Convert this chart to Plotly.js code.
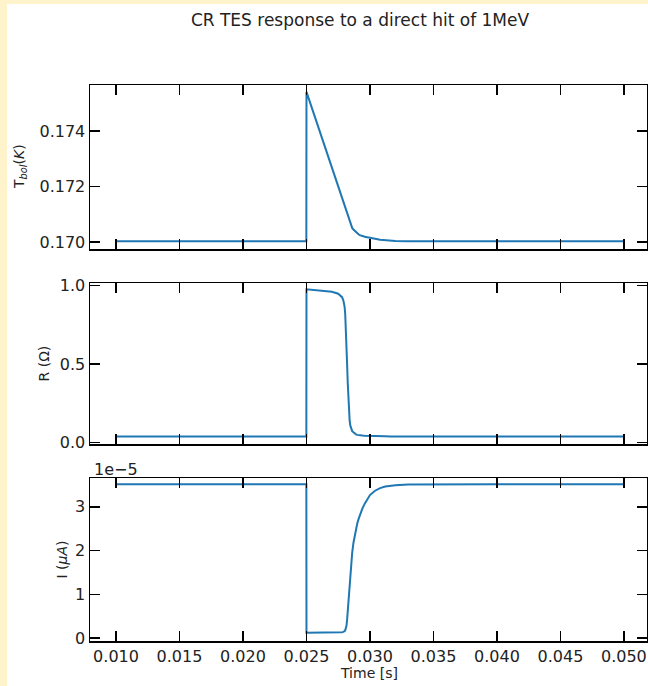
<!DOCTYPE html>
<html><head><meta charset="utf-8">
<script src="https://cdn.plot.ly/plotly-3.0.1.min.js"></script>
<style>
html,body{margin:0;padding:0;background:#fff3cc;width:648px;height:686px;overflow:hidden;}
#chart{position:absolute;left:7px;top:4px;width:641px;height:682px;background:#fff;}
</style></head><body><div id="chart"></div>
<script>
// ---- data ----
const timeS = [0.010, 0.02499, 0.025, 0.0255, 0.026, 0.0265, 0.027, 0.0275,
  0.0278, 0.0279, 0.02795, 0.0280, 0.02805, 0.0281, 0.02815, 0.0282, 0.02825, 0.0283, 0.02835, 0.0284, 0.02845, 0.0285,
  0.0286, 0.0287, 0.0288, 0.0289, 0.0290, 0.0291, 0.0292, 0.0294, 0.0296, 0.0298, 0.0300,
  0.0304, 0.0308, 0.0312, 0.0316, 0.0320, 0.0330, 0.0350, 0.0400, 0.0500];
const tempK = [0.17003, 0.17003, 0.17541, 0.17472, 0.17403, 0.17334, 0.17265, 0.17196,
  0.17154, 0.17141, 0.17134, 0.17127, 0.17120, 0.17113, 0.17106, 0.17099, 0.17092, 0.17085, 0.17078, 0.17071, 0.17065, 0.17059,
  0.17051, 0.17045, 0.17040, 0.17035, 0.17031, 0.17028, 0.17025, 0.17021, 0.17019, 0.17017, 0.17016,
  0.17012, 0.17008, 0.17006, 0.17005, 0.17004, 0.17003, 0.17003, 0.17003, 0.17003];
const resOhm = [0.04, 0.04, 0.975, 0.972, 0.969, 0.965, 0.959, 0.947,
  0.925, 0.905, 0.89, 0.865, 0.82, 0.74, 0.63, 0.50, 0.38, 0.27, 0.19, 0.14, 0.11, 0.09,
  0.074, 0.066, 0.058, 0.053, 0.05, 0.048, 0.047, 0.046, 0.045, 0.044, 0.043,
  0.042, 0.041, 0.0405, 0.04, 0.04, 0.04, 0.04, 0.04, 0.04];
const currentA = [3.52e-5, 3.52e-5, 0.12e-5, 0.12e-5, 0.121e-5, 0.122e-5, 0.124e-5, 0.127e-5,
  0.134e-5, 0.14e-5, 0.145e-5, 0.155e-5, 0.175e-5, 0.21e-5, 0.28e-5, 0.42e-5, 0.62e-5, 0.86e-5, 1.1e-5, 1.33e-5, 1.52e-5, 1.68e-5,
  1.95e-5, 2.18e-5, 2.36e-5, 2.50e-5, 2.62e-5, 2.72e-5, 2.81e-5, 2.96e-5, 3.08e-5, 3.19e-5, 3.27e-5,
  3.37e-5, 3.43e-5, 3.465e-5, 3.485e-5, 3.497e-5, 3.51e-5, 3.517e-5, 3.52e-5, 3.52e-5];
const xTickVals = [0.010, 0.015, 0.020, 0.025, 0.030, 0.035, 0.040, 0.045, 0.050];
const xTickText = ['0.010', '0.015', '0.020', '0.025', '0.030', '0.035', '0.040', '0.045', '0.050'];
const tTickVals = [0.170, 0.172, 0.174];
const tTickText = ['0.170', '0.172', '0.174'];
const rTickVals = [0, 0.5, 1.0];
const rTickText = ['0.0', '0.5', '1.0'];
const iTickVals = [0, 1e-5, 2e-5, 3e-5];
const iTickText = ['0', '1', '2', '3'];
const titleText = 'CR TES response to a direct hit of 1MeV';

// ---- layout geometry (page pixels) ----
const OX = 7, OY = 4, W = 641, H = 682;
const pL = 90, pR = 647, pT = 85, pB = 641;
const mL = pL - OX, mR = (OX + W) - pR, mT = pT - OY, mB = (OY + H) - pB;
const ph = pB - pT, pw = pR - pL;
function dom(top, bot) { return [(pB - bot) / ph, (pB - top) / ph]; }
function px2x(x) { return (x - pL) / pw; }

const blue = '#1f77b4';
const font = 'DejaVu Sans, Liberation Sans, sans-serif';
const axBase = {
  ticks: 'inside', ticklen: 10, tickwidth: 1.5, tickcolor: '#000',
  showline: true, linecolor: '#000', linewidth: 1.5, mirror: 'allticks',
  showgrid: false, zeroline: false,
  tickfont: {family: font, size: 16, color: '#222'}
};
const xRange = [0.00795, 0.05182];
function xAx(anchor, labels) {
  return Object.assign({}, axBase, {
    anchor: anchor, range: xRange, tickmode: 'array', tickvals: xTickVals, ticktext: xTickText,
    showticklabels: labels
  });
}

const traces = [
  {x: timeS, y: tempK, xaxis: 'x', yaxis: 'y', mode: 'lines', line: {color: blue, width: 2}, hoverinfo: 'skip'},
  {x: timeS, y: resOhm, xaxis: 'x2', yaxis: 'y2', mode: 'lines', line: {color: blue, width: 2}, hoverinfo: 'skip'},
  {x: timeS, y: currentA, xaxis: 'x3', yaxis: 'y3', mode: 'lines', line: {color: blue, width: 2}, hoverinfo: 'skip'}
];

const layout = {
  width: W, height: H,
  margin: {l: mL, r: mR, t: mT, b: mB, pad: 0},
  paper_bgcolor: '#fff', plot_bgcolor: '#fff',
  showlegend: false,
  font: {family: font, color: '#222'},
  title: {text: titleText, font: {family: font, size: 17, color: '#222'},
          x: (360 - OX) / W, xref: 'container', xanchor: 'center',
          y: 1 - (20 - OY) / H, yref: 'container', yanchor: 'middle'},
  xaxis: xAx('y', false),
  xaxis2: xAx('y2', false),
  xaxis3: xAx('y3', true),
  yaxis: Object.assign({}, axBase, {anchor: 'x', domain: dom(85, 249), range: [0.16975, 0.17566],
    tickmode: 'array', tickvals: tTickVals, ticktext: tTickText}),
  yaxis2: Object.assign({}, axBase, {anchor: 'x2', domain: dom(283, 444), range: [-0.008, 1.015],
    tickmode: 'array', tickvals: rTickVals, ticktext: rTickText}),
  yaxis3: Object.assign({}, axBase, {anchor: 'x3', domain: dom(478, 641), range: [-0.069e-5, 3.661e-5],
    tickmode: 'array', tickvals: iTickVals, ticktext: iTickText}),
  annotations: [
    {text: 'T<sub><i>bol</i></sub>(<i>K</i>)', xref: 'paper', x: px2x(20), yref: 'y domain', y: 0.5,
     textangle: -90, showarrow: false, xanchor: 'center', yanchor: 'middle', font: {family: font, size: 14, color: '#222'}},
    {text: 'R (Ω)', xref: 'paper', x: px2x(43), yref: 'y2 domain', y: 0.5,
     textangle: -90, showarrow: false, xanchor: 'center', yanchor: 'middle', font: {family: font, size: 14, color: '#222'}},
    {text: 'I (<i>μA</i>)', xref: 'paper', x: px2x(61), yref: 'y3 domain', y: 0.5,
     textangle: -90, showarrow: false, xanchor: 'center', yanchor: 'middle', font: {family: font, size: 14, color: '#222'}},
    {text: '1e−5', xref: 'paper', x: px2x(92), xanchor: 'left', yref: 'y3 domain', y: 1 + (478 - 469) / (641 - 478),
     yanchor: 'middle', showarrow: false, font: {family: font, size: 16, color: '#222'}},
    {text: 'Time [s]', xref: 'paper', x: px2x(369), xanchor: 'center', yref: 'y3 domain', y: -(673 - 641) / (641 - 478),
     yanchor: 'middle', showarrow: false, font: {family: font, size: 14, color: '#222'}}
  ]
};

Plotly.newPlot('chart', traces, layout, {staticPlot: true, displayModeBar: false});
</script></body></html>
